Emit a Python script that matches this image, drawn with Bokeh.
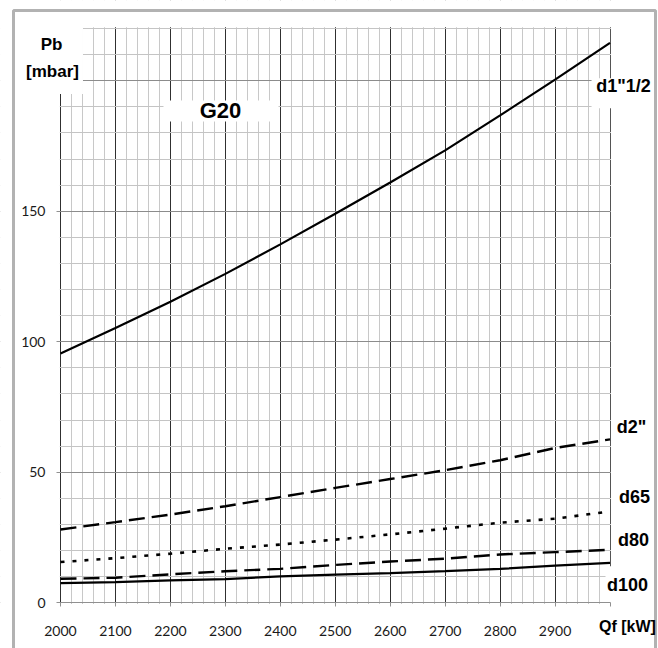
from bokeh.plotting import figure
from bokeh.models import Range1d, FixedTicker, Label, BoxAnnotation
from bokeh.embed import file_html
from bokeh.resources import INLINE

# ---- data ----
qf = [2000, 2100, 2200, 2300, 2400, 2500, 2600, 2700, 2800, 2900, 3000]
d1_1_2 = [95.5, 105.3, 115.3, 126.0, 137.3, 149.0, 161.0, 173.3, 186.7, 200.4, 214.5]
d2 = [28.1, 30.9, 33.8, 37.0, 40.5, 44.0, 47.4, 50.8, 54.6, 59.3, 62.6]
d65 = [15.6, 17.1, 18.8, 20.7, 22.3, 24.2, 26.2, 28.4, 30.7, 32.2, 35.0]
d80 = [9.2, 9.6, 10.9, 12.1, 13.0, 14.5, 15.8, 16.9, 18.5, 19.4, 20.3]
d100 = [7.5, 7.9, 8.6, 9.1, 10.1, 10.8, 11.4, 12.1, 13.0, 14.2, 15.3]

x_ticks = list(range(2000, 3001, 100))
x_minor = list(range(2000, 3001, 20))
y_ticks = [0, 50, 100, 150]
y_grid_major = [0, 50, 100, 150, 200]
y_minor = list(range(0, 221, 10))

X0, X1 = 2000, 3000
Y0, Y1 = 0, 220

p = figure(width=658, height=648, output_backend="svg", toolbar_location=None,
           x_range=Range1d(1890.81, 3088.26), y_range=Range1d(-17.51, 230.72),
           min_border=0, min_border_left=0, min_border_right=0,
           min_border_top=0, min_border_bottom=0,
           background_fill_color="white", border_fill_color="white")
p.outline_line_color = None

# grids
p.xgrid.ticker = FixedTicker(ticks=x_ticks, minor_ticks=x_minor)
p.xgrid.grid_line_color = "#303030"
p.xgrid.minor_grid_line_color = "#c8c8c8"
p.ygrid.ticker = FixedTicker(ticks=y_grid_major, minor_ticks=y_minor)
p.ygrid.grid_line_color = "#8c8c8c"
p.ygrid.minor_grid_line_color = "#c4c4c4"

# white covers to keep the grid inside the chart area (and label backgrounds)
covers = [
    (1880, X0 - 1.2, -30, 240),          # left strip
    (X1 + 1.5, 3100, -30, 240),          # right strip
    (1880, 3100, Y1 + 0.45, 240),        # top strip
    (1880, 3100, -30, Y0 - 0.45),        # bottom strip
    (1880, 2040.9, 194.9, 240),          # Pb [mbar] box
    (2187.4, 2396.7, 184.4, 192.4),      # G20 box
    (2966.4, 3100, 189.4, 200.9),        # d1"1/2 box
    (2991.8, 3100, -0.3, 14.0),          # d100 box
]
for l, r, b, t in covers:
    p.add_layout(BoxAnnotation(left=l, right=r, bottom=b, top=t, fill_color="white",
                               fill_alpha=1, line_color=None, level="underlay"))

# axes placed at the chart origin
p.xaxis.fixed_location = Y0
p.yaxis.fixed_location = X0
p.xaxis.bounds = (X0, X1)
p.yaxis.bounds = (Y0, Y1)
p.xaxis.ticker = FixedTicker(ticks=x_ticks)
p.xaxis.major_label_overrides = {3000: ""}
p.yaxis.ticker = FixedTicker(ticks=y_ticks)
for ax in (p.xaxis, p.yaxis):
    ax.axis_line_color = "#909090"
    ax.major_tick_line_color = "#909090"
    ax.major_tick_in = 0
    ax.major_tick_out = 4
    ax.minor_tick_line_color = None
    ax.major_label_text_font = "Lato"
    ax.major_label_text_font_size = "14px"
    ax.major_label_text_color = "#1a1a1a"
p.yaxis.axis_line_color = None
p.xaxis.major_label_standoff = 19
p.yaxis.major_label_standoff = 11

# lines
p.line(qf, d1_1_2, line_color="black", line_width=2.2)
p.line(qf, d2, line_color="black", line_width=2.4, line_dash="16 7")
p.line(qf, d65, line_color="black", line_width=2.6, line_dash="4 8")
p.line(qf, d80, line_color="black", line_width=2.4, line_dash="16 7")
p.line(qf, d100, line_color="black", line_width=2.2)

# outer frame (bottom edge lies outside the picture)
p.add_layout(BoxAnnotation(left=1914.47, right=3082.8, top=226.9, bottom=-40,
                           fill_alpha=0, line_color="black", line_width=3))

def lab(x, y, text, size):
    p.add_layout(Label(x=x, y=y, text=text, text_font="Liberation Sans",
                       text_font_style="bold", text_font_size=size, text_color="black",
                       text_align="center", text_baseline="middle"))

lab(1983.6, 213.7, "Pb", "17px")
lab(1985.4, 203.5, "[mbar]", "17px")
lab(2291.2, 188.4, "G20", "22px")
lab(3024.6, 197.8, 'd1"1/2', "18px")
lab(3039.1, 67.2, 'd2"', "18px")
lab(3044.6, 40.4, "d65", "18px")
lab(3042.8, 23.9, "d80", "18px")
lab(3031.8, 7.0, "d100", "18px")
lab(3031.8, -9.0, "Qf [kW]", "16px")

open("out.html", "w").write(file_html(p, INLINE))
